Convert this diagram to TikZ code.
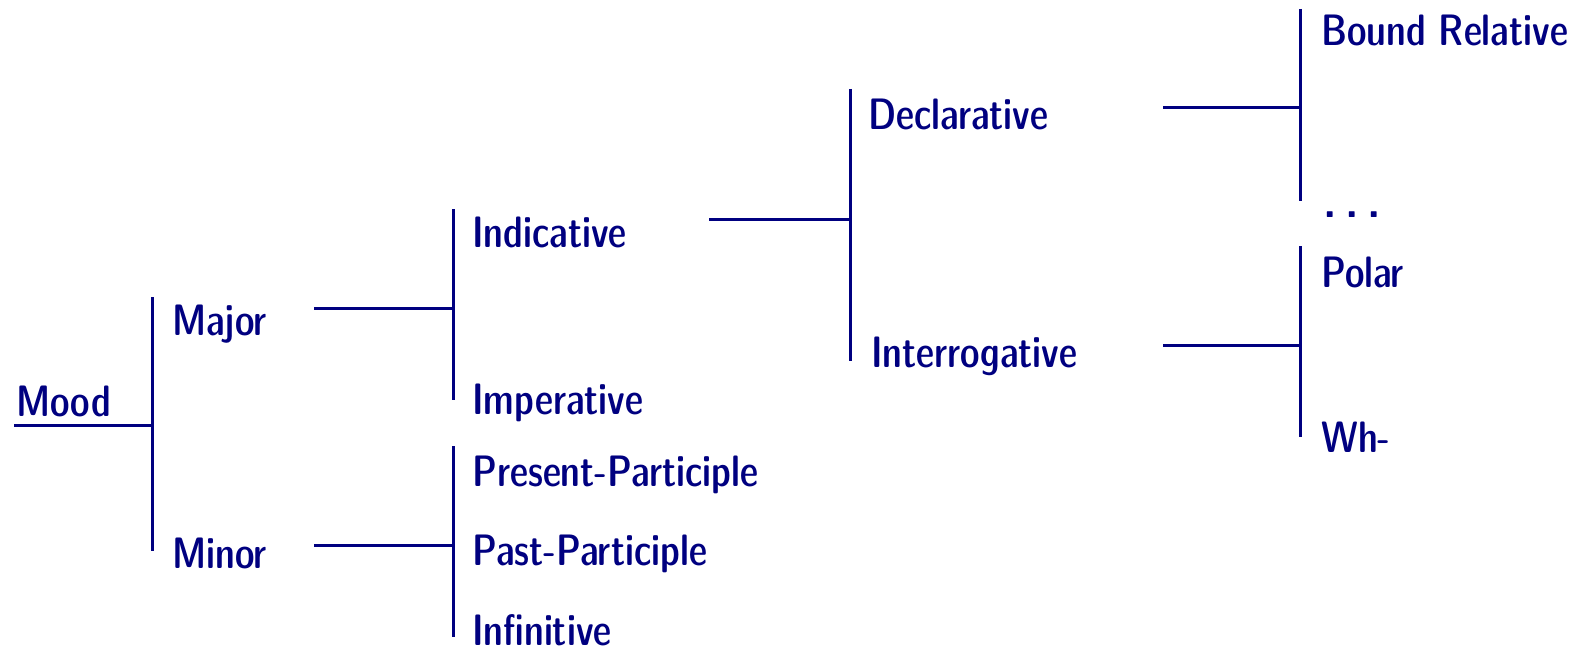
\documentclass[tikz,border=0pt]{standalone}
\usepackage{graphicx}
\definecolor{navy}{RGB}{0,0,128}
\newcommand\narrowtxt[1]{\scalebox{0.93}[1]{#1}}
\tikzset{
  lbl/.style={anchor=base west, inner sep=0pt, text=navy, font=\sffamily\fontseries{sbc}\fontsize{44}{50}\selectfont},
  ln/.style={draw=navy, line width=3pt}
}
\begin{document}
\begin{tikzpicture}[x=1pt,y=-1pt]
\useasboundingbox (0,0) rectangle (1570,650);
% labels
\node[lbl] (mood) at (16,416) {\narrowtxt{Mood}};
\node[lbl] (major) at (172,335) {\narrowtxt{Major}};
\node[lbl] (minor) at (172,568) {\narrowtxt{Minor}};
\node[lbl] (indic) at (472,247) {\narrowtxt{Indicative}};
\node[lbl] (imper) at (472,414) {\narrowtxt{Imperative}};
\node[lbl] (prespart) at (472,486) {\narrowtxt{Present-Participle}};
\node[lbl] (pastpart) at (472,565) {\narrowtxt{Past-Participle}};
\node[lbl] (infin) at (472,645) {\narrowtxt{Infinitive}};
\node[lbl] (decl) at (868,129) {\narrowtxt{Declarative}};
\node[lbl] (interr) at (871,367) {\narrowtxt{Interrogative}};
\node[lbl] (bound) at (1321,46) {\narrowtxt{Bound Relative}};
\node[lbl] (dots) at (1323,217) {\textbf{.\hspace{0.2em}.\hspace{0.2em}.}};
\node[lbl] (polar) at (1321,287) {\narrowtxt{Polar}};
\node[lbl] (wh) at (1321,452) {\narrowtxt{Wh-}};
% coordinates
\coordinate (m0) at (14,425);
\coordinate (m1) at (152,425);
\coordinate (b1t) at (152,297);
\coordinate (b1b) at (152,551);
\coordinate (ma0) at (314,308);
\coordinate (ma1) at (453,308);
\coordinate (b2t) at (453,209);
\coordinate (b2b) at (453,400);
\coordinate (mi0) at (314,545);
\coordinate (mi1) at (453,545);
\coordinate (b3t) at (453,446);
\coordinate (b3b) at (453,637);
\coordinate (in0) at (709,219);
\coordinate (in1) at (850,219);
\coordinate (b4t) at (850,89);
\coordinate (b4b) at (850,361);
\coordinate (de0) at (1163,108);
\coordinate (de1) at (1300,108);
\coordinate (b5t) at (1300,9);
\coordinate (b5b) at (1300,201);
\coordinate (ir0) at (1163,345);
\coordinate (ir1) at (1300,345);
\coordinate (b6t) at (1300,246);
\coordinate (b6b) at (1300,437);
% connectors
\draw[ln] (m0) -- (m1);
\draw[ln] (b1t) -- (b1b);
\draw[ln] (ma0) -- (ma1);
\draw[ln] (b2t) -- (b2b);
\draw[ln] (mi0) -- (mi1);
\draw[ln] (b3t) -- (b3b);
\draw[ln] (in0) -- (in1);
\draw[ln] (b4t) -- (b4b);
\draw[ln] (de0) -- (de1);
\draw[ln] (b5t) -- (b5b);
\draw[ln] (ir0) -- (ir1);
\draw[ln] (b6t) -- (b6b);
\end{tikzpicture}
\end{document}
